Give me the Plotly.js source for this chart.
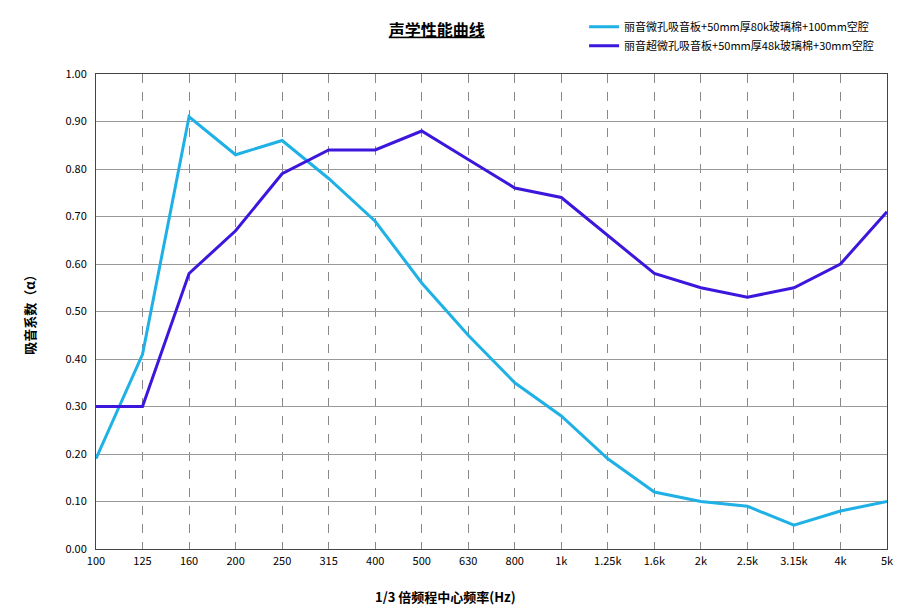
<!DOCTYPE html>
<html>
<head>
<meta charset="utf-8">
<script src="https://cdn.plot.ly/plotly-3.0.1.min.js"></script>
<style>body{margin:0;background:#fff}</style>
</head>
<body>
<div id="chart" style="width:910px;height:611px"></div>
<script>
  const freqs = ['100','125','160','200','250','315','400','500','630','800','1k','1.25k','1.6k','2k','2.5k','3.15k','4k','5k'];
  const series1Name = '丽音微孔吸音板+50mm厚80k玻璃棉+100mm空腔';
  const series1 = [0.19,0.41,0.91,0.83,0.86,0.78,0.69,0.56,0.45,0.35,0.28,0.19,0.12,0.10,0.09,0.05,0.08,0.10];
  const series2Name = '丽音超微孔吸音板+50mm厚48k玻璃棉+30mm空腔';
  const series2 = [0.30,0.30,0.58,0.67,0.79,0.84,0.84,0.88,0.82,0.76,0.74,0.66,0.58,0.55,0.53,0.55,0.60,0.71];
  const yTicks = [0,0.1,0.2,0.3,0.4,0.5,0.6,0.7,0.8,0.9,1.0];

  const font = 'Noto Sans CJK SC, Noto Sans, sans-serif';

  const data = [
    {x: freqs, y: series1, name: series1Name, mode: 'lines', line: {color: '#1fb1e6', width: 3}},
    {x: freqs, y: series2, name: series2Name, mode: 'lines', line: {color: '#3c16dc', width: 3}}
  ];

  const layout = {
    width: 910, height: 611,
    margin: {l: 96, r: 23, t: 72, b: 62},
    paper_bgcolor: '#fff', plot_bgcolor: '#fff',
    font: {family: font, size: 11, color: '#000'},
    title: {text: '<b><u>声学性能曲线</u></b>', x: 0.48, xanchor: 'center', y: 0.96, font: {size: 16}},
    showlegend: true,
    legend: {x: 0.99, xanchor: 'right', y: 1.13, yanchor: 'top', bgcolor: 'rgba(0,0,0,0)', font: {size: 11}},
    xaxis: {
      type: 'category', range: [0, 17],
      showgrid: true, gridcolor: '#888', griddash: 'dash', gridwidth: 1,
      showline: true, linecolor: '#444', mirror: true, ticks: '',
      tickfont: {size: 11}, ticklabelstandoff: 2
    },
    yaxis: {
      range: [0, 1], tickvals: yTicks, tickformat: '.2f',
      showgrid: true, gridcolor: '#999', gridwidth: 1,
      showline: true, linecolor: '#444', mirror: true, zeroline: false, ticks: '',
      tickfont: {size: 11}, ticklabelstandoff: 6,
      title: {text: '<b>吸音系数（α）</b>', font: {size: 13}, standoff: 26}
    },
    annotations: [{
      text: '<b>1/3 倍频程中心频率(Hz)</b>', xref: 'paper', yref: 'paper',
      x: (445 - 96) / 791, y: -0.1, xanchor: 'center', yanchor: 'middle',
      showarrow: false, font: {size: 13}
    }]
  };

  Plotly.newPlot('chart', data, layout, {displayModeBar: false});
</script>
</body>
</html>
